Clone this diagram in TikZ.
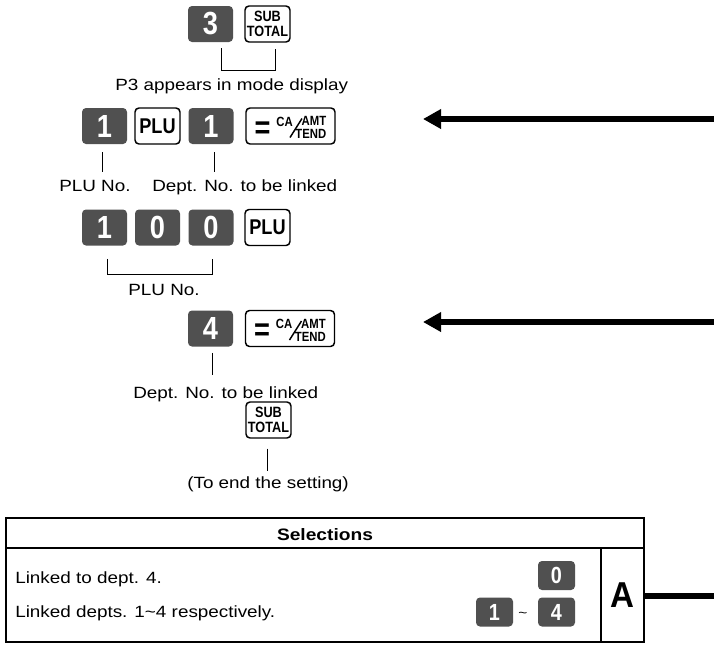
\documentclass[tikz,border=0pt]{standalone}
\usepackage{fontspec}
\setmainfont{Liberation Sans}[FakeStretch=1.16]
\newfontfamily\keyfont{Liberation Sans}[FakeStretch=0.85]
\newfontfamily\tagfont{Liberation Sans}[FakeStretch=0.92]
\usetikzlibrary{arrows.meta}
\definecolor{keygray}{RGB}{80,80,80}

\begin{document}
\begin{tikzpicture}[x=0.75pt, y=-0.75pt,
    numkey/.style={fill=keygray, rounded corners=3pt, minimum width=33.75pt,
      minimum height=27pt, inner sep=0pt, text=white,
      font=\keyfont\bfseries\fontsize{24}{24}\selectfont},
    fnkey/.style={draw, line width=1.1pt, rounded corners=3pt, minimum width=33.75pt,
      minimum height=27pt, inner sep=0pt, align=center,
      font=\keyfont\bfseries\fontsize{11.2}{11}\selectfont},
    plukey/.style={fnkey, font=\keyfont\bfseries\fontsize{16}{16}\selectfont},
    selkey/.style={numkey, minimum width=27.75pt, minimum height=21.75pt,
      font=\keyfont\bfseries\fontsize{17.5}{17.5}\selectfont},
    keytext/.style={inner sep=0pt, font=\keyfont\bfseries\fontsize{10}{9.75}\selectfont},
    note/.style={inner sep=0pt, anchor=base west, font=\fontsize{12.2}{14}\selectfont},
    lead/.style={line width=0.75pt},
    tbl/.style={line width=1.2pt},
    arw/.style={line width=4.2pt, -{Triangle[length=13.5pt, width=14pt]}},
    cakey/.pic={
      \node[fnkey, minimum width=66.75pt] (-box) {};
      \node[keytext, font=\keyfont\bfseries\fontsize{24}{24}\selectfont] (-eq) at (-28,4) {=};
      \node[keytext] (-ca) at (-6,-4.5) {CA};
      \draw[line width=1.1pt] (-0.5,11.5) -- (11.5,-7.5);
      \node[keytext, align=right, anchor=east] (-amt) at (36,1.5) {AMT\\TEND};
    },
  ]
    \useasboundingbox (0,0) rectangle (714,644);

    % Mode P3
    \node[numkey] (k3) at (210.5,24) {3};
    \node[fnkey] (st1) at (267.5,24) {SUB\\TOTAL};
    \draw[lead] ([shift={(10.5,6)}]k3.south) -- ++(0,22) -| ([shift={(7.5,6)}]st1.south);
    \node[note] (n1) at (115,90) {P3 appears in mode display};

    % PLU 1 to dept. 1
    \node[numkey] (k1a) at (104.5,126) {1};
    \node[plukey] (plu1) at (157.5,126) {PLU};
    \node[numkey] (k1b) at (211,126) {1};
    \pic (ca1) at (290.5,126) {cakey};
    \draw[lead] ([shift={(-2.5,8)}]k1a.south) -- ++(0,20);
    \draw[lead] ([shift={(3,8)}]k1b.south) -- ++(0,20);
    \node[note] (n2) at (59,191) {PLU No.};
    \node[note] (n3) at (152,191) {Dept. No. to be linked};

    % PLU 100
    \node[numkey] (k1c) at (104.5,227.5) {1};
    \node[numkey] (k0a) at (157.5,227.5) {0};
    \node[numkey] (k0b) at (211,227.5) {0};
    \node[plukey] (plu2) at (267.5,227.5) {PLU};
    \draw[lead] ([shift={(2.5,13)}]k1c.south) -- ++(0,16) -| ([shift={(1,13)}]k0b.south);
    \node[note, anchor=base] (n4) at (164,295) {PLU No.};

    % Dept. 4
    \node[numkey] (k4) at (210.5,328.5) {4};
    \pic (ca2) at (290,328.5) {cakey};
    \draw[lead] ([shift={(1.5,6)}]k4.south) -- ++(0,22);
    \node[note] (n5) at (133,398) {Dept. No. to be linked};

    % End
    \node[fnkey] (st2) at (268.5,420) {SUB\\TOTAL};
    \draw[lead] ([shift={(-1.5,10)}]st2.south) -- ++(0,22);
    \node[note] (n6) at (187,488) {(To end the setting)};

    % Arrows from the right
    \coordinate (in1) at (714,119);
    \coordinate (tip1) at (423,119);
    \coordinate (in2) at (714,322);
    \coordinate (tip2) at (423,322);
    \draw[arw] (in1) -- (tip1);
    \draw[arw] (in2) -- (tip2);

    % Selections table
    \draw[tbl] (6,518) rectangle (644,642);
    \draw[tbl] (6,548) -- (644,548);
    \node[note, anchor=base, font=\bfseries\fontsize{12.4}{14}\selectfont] (sel) at (325,540) {Selections};
    \node[tbl, draw, minimum width=32.25pt, minimum height=70.5pt, inner sep=0pt,
      font=\tagfont\bfseries\fontsize{27}{27}\selectfont] (colA) at (622.5,595) {A};
    \node[note] (r1) at (15,583) {Linked to dept. 4.};
    \node[note] (r2) at (15,617) {Linked depts. 1\textasciitilde 4 respectively.};
    \node[selkey] (s0) at (556.5,575.5) {0};
    \node[selkey] (s1) at (494.5,612) {1};
    \node[selkey] (s4) at (556.5,612) {4};
    \node[inner sep=0pt, font=\fontsize{10}{10}\selectfont] (tl) at (523,615) {\textasciitilde};
    \coordinate (out) at (714,596);
    \draw[line width=4.2pt] (colA.east |- out) -- (out);
\end{tikzpicture}
\end{document}
